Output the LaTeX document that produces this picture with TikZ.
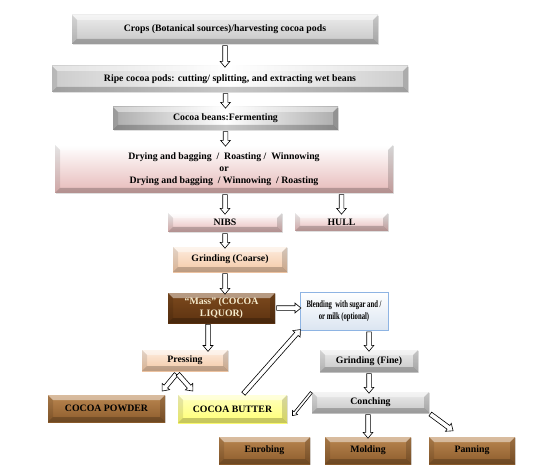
\documentclass[tikz,border=0pt]{standalone}
\usepackage{fontspec}
\setmainfont{Liberation Serif}
\usetikzlibrary{calc,shapes.arrows,shadows}

\definecolor{pinkbot}{RGB}{230,185,184}
\definecolor{peachtop}{RGB}{253,236,222}
\definecolor{peachbot}{RGB}{243,200,165}
\definecolor{brtop}{RGB}{186,134,80}
\definecolor{brbot}{RGB}{140,92,44}
\definecolor{masstop}{RGB}{125,74,30}
\definecolor{massbot}{RGB}{92,50,16}
\definecolor{bluebord}{RGB}{142,180,227}
\definecolor{bluebot}{RGB}{219,229,241}
\definecolor{cream}{RGB}{245,235,205}

\tikzset{
  bevel/.style={path picture={
    \path (path picture bounding box.north west) coordinate (pnw)
          (path picture bounding box.north east) coordinate (pne)
          (path picture bounding box.south west) coordinate (psw)
          (path picture bounding box.south east) coordinate (pse);
    \fill[white,opacity=.45] (pnw) -- (pne) -- ([xshift=-5pt,yshift=-5pt]pne)
      -- ([xshift=5pt,yshift=-5pt]pnw) -- cycle;
    \fill[black,opacity=.10] (pnw) -- (psw) -- ([xshift=5pt,yshift=5pt]psw)
      -- ([xshift=5pt,yshift=-5pt]pnw) -- cycle;
    \fill[black,opacity=.16] (pne) -- (pse) -- ([xshift=-5pt,yshift=5pt]pse)
      -- ([xshift=-5pt,yshift=-5pt]pne) -- cycle;
    \fill[black,opacity=.22] (psw) -- (pse) -- ([xshift=-5pt,yshift=5pt]pse)
      -- ([xshift=5pt,yshift=5pt]psw) -- cycle;
  }},
  box/.style={bevel, align=center, inner sep=1pt,
    drop shadow={opacity=.25,shadow xshift=1pt,shadow yshift=-1pt}},
  dim/.style 2 args={minimum width=#1pt, minimum height=#2pt},
  greybox/.style={box, top color=gray!15, bottom color=gray!45},
  sidebox/.style={box, left color=gray!#1, right color=gray!#1, middle color=white},
  pinkbox/.style={box, top color=white, bottom color=pinkbot},
  peachbox/.style={box, top color=peachtop, bottom color=peachbot},
  brownbox/.style={box, top color=brtop, bottom color=brbot},
  barrow/.style={single arrow, draw, fill=white, inner xsep=0pt, inner ysep=#1,
    single arrow head extend=2.6pt, single arrow tip angle=80, line width=.6pt},
  barrow/.default=2pt
}
\newcommand\flowarrow[3][]{%
  \path let \p1=($(#3)-(#2)$), \n1={veclen(\x1,\y1)} in
    (#2) -- (#3) node[midway, sloped, allow upside down, barrow, #1,
      minimum height=\n1] {};}
\newcommand\narrowtext[1]{\scalebox{.68}[1]{#1}}

\begin{document}
\begin{tikzpicture}[x=1pt, y=-1pt, font=\fontsize{9.8}{11.8}\selectfont\bfseries]
  \useasboundingbox (0,0) rectangle (536,476);

  % main column
  \node[greybox, dim={306}{29}] (crops) at (225,29.5)
    {Crops (Botanical sources)/harvesting cocoa pods};
  \node[sidebox=40, dim={356}{26}] (ripe) at (230,79)
    {Ripe cocoa pods: cutting/ splitting, and extracting wet beans};
  \node[sidebox=65, dim={225}{23}] (beans) at (225.5,118.5)
    {Cocoa beans:Fermenting};
  \node[pinkbox, dim={338}{48}] (drying) at (224,169)
    {Drying and bagging \ / \ Roasting / \ Winnowing\\or\\
     Drying and bagging \ / Winnowing \ / Roasting};
  \node[pinkbox, dim={114}{19}] (nibs) at (225,222.5) {NIBS};
  \node[pinkbox, dim={93}{18}] (hull) at (341.5,222) {HULL};
  \node[peachbox, dim={114}{25}] (coarse) at (230,259.5) {Grinding (Coarse)};
  \node[box, top color=masstop, bottom color=massbot, text=cream, dim={107}{30}]
    (mass) at (221.5,308) {``Mass'' (COCOA\\LIQUOR)};
  \node[draw=bluebord, line width=1pt, top color=white, bottom color=bluebot,
    align=center, inner sep=1pt, dim={88}{38},
    drop shadow={opacity=.25,shadow xshift=1pt,shadow yshift=-1pt}]
    (blend) at (344,311)
    {\narrowtext{Blending \ with sugar and /}\\\narrowtext{or milk (optional)}};
  \node[peachbox, dim={86}{21}] (press) at (185,360.5) {Pressing};
  \node[brownbox, dim={117}{27}] (powder) at (106.5,408.5) {COCOA POWDER};
  \node[box, top color=yellow!25, bottom color=yellow!55, dim={109}{28}]
    (butter) at (232.5,409) {COCOA BUTTER};
  \node[greybox, dim={98}{22}] (fine) at (369,361) {Grinding (Fine)};
  \node[greybox, dim={117}{21}] (conch) at (370.5,402.5) {Conching};
  \node[brownbox, dim={91}{27}] (enrob) at (264.5,450.5) {Enrobing};
  \node[brownbox, dim={86}{27}] (mold) at (368,450.5) {Molding};
  \node[brownbox, dim={86}{27}] (pan) at (472,450.5) {Panning};

  \coordinate (pleft) at (163,390);
  \coordinate (pright) at (192,390);
  \coordinate (pstart) at (177,373);
  \coordinate (butterin) at (293,415);
  \coordinate (panin) at (452,430);

  % block arrows
  \flowarrow{crops.south}{crops.south |- ripe.north}
  \flowarrow{beans.north |- ripe.south}{beans.north}
  \flowarrow{beans.south}{beans.south |- drying.north}
  \flowarrow{nibs.north |- drying.south}{nibs.north}
  \flowarrow{hull.north |- drying.south}{hull.north}
  \flowarrow{nibs.south}{nibs.south |- coarse.north}
  \flowarrow{nibs.south |- coarse.south}{nibs.south |- mass.north}
  \flowarrow{mass.east}{mass.east -| blend.west}
  \flowarrow{208,323}{208,350}
  \flowarrow{pstart}{pleft}
  \flowarrow{pstart}{pright}
  \flowarrow{[xshift=10pt]butter.north}{blend.south west}
  \flowarrow{fine.north |- blend.south}{fine.north}
  \flowarrow{fine.south}{fine.south |- conch.north}
  \flowarrow[barrow=1pt, single arrow head extend=2pt]{conch.north west}{butterin}
  \flowarrow{mold.north |- conch.south}{mold.north}
  \flowarrow{conch.south east}{panin}
\end{tikzpicture}
\end{document}
